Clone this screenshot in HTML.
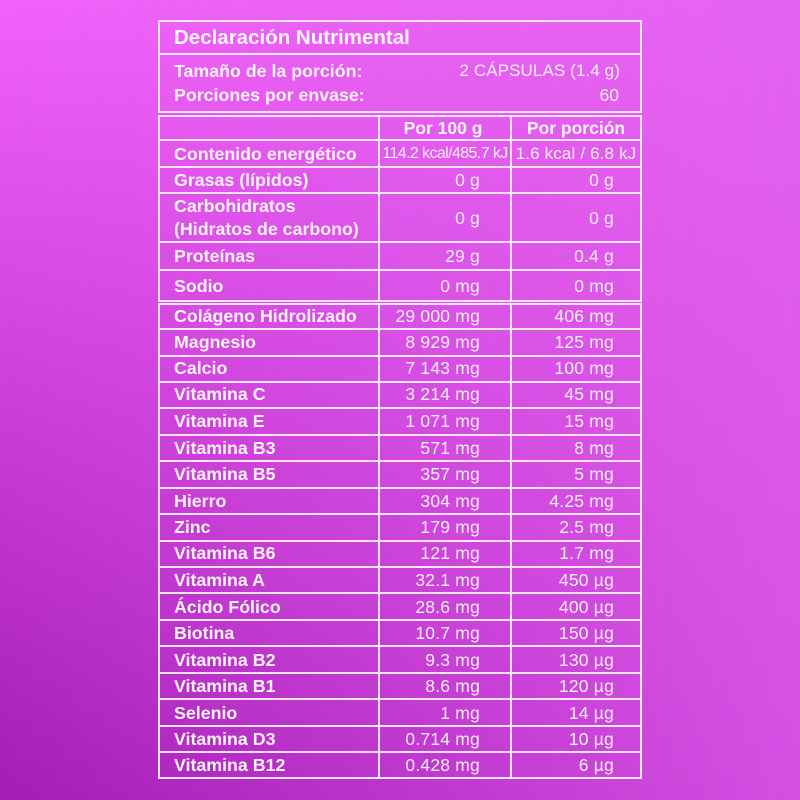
<!DOCTYPE html>
<html>
<head>
<meta charset="utf-8">
<style>
  html, body { margin:0; padding:0; }
  body { width:800px; height:800px; overflow:hidden; position:relative; font-family:"Liberation Sans", Arial, sans-serif; }
  .bg1 { position:absolute; left:0; top:0; width:800px; height:800px; background:linear-gradient(to bottom,#f262fa 0%,#cc3fd9 50%,#a41db5 100%); }
  .bg2 { position:absolute; left:0; top:0; width:800px; height:800px; background:linear-gradient(to bottom,#e463f1 0%,#d54fe2 100%);
         -webkit-mask-image:linear-gradient(to right,rgba(0,0,0,0) 0%,#000 100%); mask-image:linear-gradient(to right,rgba(0,0,0,0) 0%,#000 100%); }
  .h { position:absolute; height:2px; background:#f8e4fb; }
  .v { position:absolute; width:2px; background:#f8e4fb; }
  .t { position:absolute; height:20px; line-height:20px; white-space:nowrap; color:#fff4fe; }
  .lb { left:174px; font-weight:bold; font-size:17.8px; }
  .c1 { right:320px; text-align:right; font-size:17.5px; letter-spacing:0.2px; color:#fbeefd; }
  .c2 { right:186px; text-align:right; font-size:17.5px; letter-spacing:0.2px; color:#fbeefd; }
</style>
</head>
<body>
<div class="bg1"></div>
<div class="bg2"></div>

<!-- Table 1 -->
<div class="h" style="left:158px;width:484px;top:20px"></div>
<div class="h" style="left:158px;width:484px;top:53px"></div>
<div class="h" style="left:158px;width:484px;top:111px"></div>
<div class="v" style="left:158px;top:20px;height:93px"></div>
<div class="v" style="left:640px;top:20px;height:93px"></div>

<div class="t" style="left:174px;top:28px;font-weight:bold;font-size:20.5px;">Declaración Nutrimental</div>
<div class="t lb" style="top:61px">Tamaño de la porción:</div>
<div class="t lb" style="top:85px">Porciones por envase:</div>
<div class="t" style="right:180px;top:61px;font-size:17px;letter-spacing:0.1px;color:#fbeefd">2 CÁPSULAS (1.4 g)</div>
<div class="t" style="right:181px;top:85px;font-size:17.5px;color:#fbeefd">60</div>

<!-- Table 2 -->
<div class="h" style="left:158px;width:484px;top:115px"></div>
<div class="h" style="left:158px;width:484px;top:139px"></div>
<div class="h" style="left:158px;width:484px;top:166px"></div>
<div class="h" style="left:158px;width:484px;top:192px"></div>
<div class="h" style="left:158px;width:484px;top:241px"></div>
<div class="h" style="left:158px;width:484px;top:269px"></div>
<div class="h" style="left:158px;width:484px;top:300px"></div>
<div class="v" style="left:158px;top:115px;height:187px"></div>
<div class="v" style="left:378px;top:115px;height:187px"></div>
<div class="v" style="left:510px;top:115px;height:187px"></div>
<div class="v" style="left:640px;top:115px;height:187px"></div>

<div class="t" style="left:380px;width:126px;text-align:center;top:118px;font-weight:bold;font-size:17.5px;">Por 100 g</div>
<div class="t" style="left:512px;width:128px;text-align:center;top:118px;font-weight:bold;font-size:17.5px;">Por porción</div>

<div class="t lb" style="top:144px">Contenido energético</div>
<div class="t" style="left:380px;width:130px;text-align:center;top:144px;font-size:16px;letter-spacing:-0.6px;color:#fbeefd">114.2 kcal/485.7 kJ</div>
<div class="t" style="left:512px;width:128px;text-align:center;top:144px;font-size:17px;letter-spacing:0.15px;color:#fbeefd">1.6 kcal / 6.8 kJ</div>

<div class="t lb" style="top:170px">Grasas (lípidos)</div>
<div class="t c1" style="top:170px">0 g</div>
<div class="t c2" style="top:170px">0 g</div>

<div class="t lb" style="top:196px">Carbohidratos</div>
<div class="t lb" style="top:219px">(Hidratos de carbono)</div>
<div class="t c1" style="top:208px">0 g</div>
<div class="t c2" style="top:208px">0 g</div>

<div class="t lb" style="top:246px">Proteínas</div>
<div class="t c1" style="top:246px">29 g</div>
<div class="t c2" style="top:246px">0.4 g</div>

<div class="t lb" style="top:276px">Sodio</div>
<div class="t c1" style="top:276px">0 mg</div>
<div class="t c2" style="top:276px">0 mg</div>

<!-- Table 3 -->
<div class="h" style="left:158px;width:484px;top:303px"></div>
<div class="h" style="left:158px;width:484px;top:328px"></div>
<div class="h" style="left:158px;width:484px;top:355px"></div>
<div class="h" style="left:158px;width:484px;top:381px"></div>
<div class="h" style="left:158px;width:484px;top:407px"></div>
<div class="h" style="left:158px;width:484px;top:434px"></div>
<div class="h" style="left:158px;width:484px;top:460px"></div>
<div class="h" style="left:158px;width:484px;top:487px"></div>
<div class="h" style="left:158px;width:484px;top:513px"></div>
<div class="h" style="left:158px;width:484px;top:540px"></div>
<div class="h" style="left:158px;width:484px;top:566px"></div>
<div class="h" style="left:158px;width:484px;top:592px"></div>
<div class="h" style="left:158px;width:484px;top:619px"></div>
<div class="h" style="left:158px;width:484px;top:645px"></div>
<div class="h" style="left:158px;width:484px;top:672px"></div>
<div class="h" style="left:158px;width:484px;top:698px"></div>
<div class="h" style="left:158px;width:484px;top:725px"></div>
<div class="h" style="left:158px;width:484px;top:751px"></div>
<div class="h" style="left:158px;width:484px;top:777px"></div>
<div class="v" style="left:158px;top:303px;height:476px"></div>
<div class="v" style="left:378px;top:303px;height:476px"></div>
<div class="v" style="left:510px;top:303px;height:476px"></div>
<div class="v" style="left:640px;top:303px;height:476px"></div>

<div class="t lb" style="top:306px">Colágeno Hidrolizado</div>
<div class="t c1" style="top:306px">29 000 mg</div>
<div class="t c2" style="top:306px">406 mg</div>

<div class="t lb" style="top:332px">Magnesio</div>
<div class="t c1" style="top:332px">8 929 mg</div>
<div class="t c2" style="top:332px">125 mg</div>

<div class="t lb" style="top:358px">Calcio</div>
<div class="t c1" style="top:358px">7 143 mg</div>
<div class="t c2" style="top:358px">100 mg</div>

<div class="t lb" style="top:384px">Vitamina C</div>
<div class="t c1" style="top:384px">3 214 mg</div>
<div class="t c2" style="top:384px">45 mg</div>

<div class="t lb" style="top:411px">Vitamina E</div>
<div class="t c1" style="top:411px">1 071 mg</div>
<div class="t c2" style="top:411px">15 mg</div>

<div class="t lb" style="top:438px">Vitamina B3</div>
<div class="t c1" style="top:438px">571 mg</div>
<div class="t c2" style="top:438px">8 mg</div>

<div class="t lb" style="top:464px">Vitamina B5</div>
<div class="t c1" style="top:464px">357 mg</div>
<div class="t c2" style="top:464px">5 mg</div>

<div class="t lb" style="top:491px">Hierro</div>
<div class="t c1" style="top:491px">304 mg</div>
<div class="t c2" style="top:491px">4.25 mg</div>

<div class="t lb" style="top:517px">Zinc</div>
<div class="t c1" style="top:517px">179 mg</div>
<div class="t c2" style="top:517px">2.5 mg</div>

<div class="t lb" style="top:543px">Vitamina B6</div>
<div class="t c1" style="top:543px">121 mg</div>
<div class="t c2" style="top:543px">1.7 mg</div>

<div class="t lb" style="top:570px">Vitamina A</div>
<div class="t c1" style="top:570px">32.1 mg</div>
<div class="t c2" style="top:570px">450 µg</div>

<div class="t lb" style="top:597px">Ácido Fólico</div>
<div class="t c1" style="top:597px">28.6 mg</div>
<div class="t c2" style="top:597px">400 µg</div>

<div class="t lb" style="top:623px">Biotina</div>
<div class="t c1" style="top:623px">10.7 mg</div>
<div class="t c2" style="top:623px">150 µg</div>

<div class="t lb" style="top:650px">Vitamina B2</div>
<div class="t c1" style="top:650px">9.3 mg</div>
<div class="t c2" style="top:650px">130 µg</div>

<div class="t lb" style="top:676px">Vitamina B1</div>
<div class="t c1" style="top:676px">8.6 mg</div>
<div class="t c2" style="top:676px">120 µg</div>

<div class="t lb" style="top:703px">Selenio</div>
<div class="t c1" style="top:703px">1 mg</div>
<div class="t c2" style="top:703px">14 µg</div>

<div class="t lb" style="top:729px">Vitamina D3</div>
<div class="t c1" style="top:729px">0.714 mg</div>
<div class="t c2" style="top:729px">10 µg</div>

<div class="t lb" style="top:755px">Vitamina B12</div>
<div class="t c1" style="top:755px">0.428 mg</div>
<div class="t c2" style="top:755px">6 µg</div>

</body>
</html>
